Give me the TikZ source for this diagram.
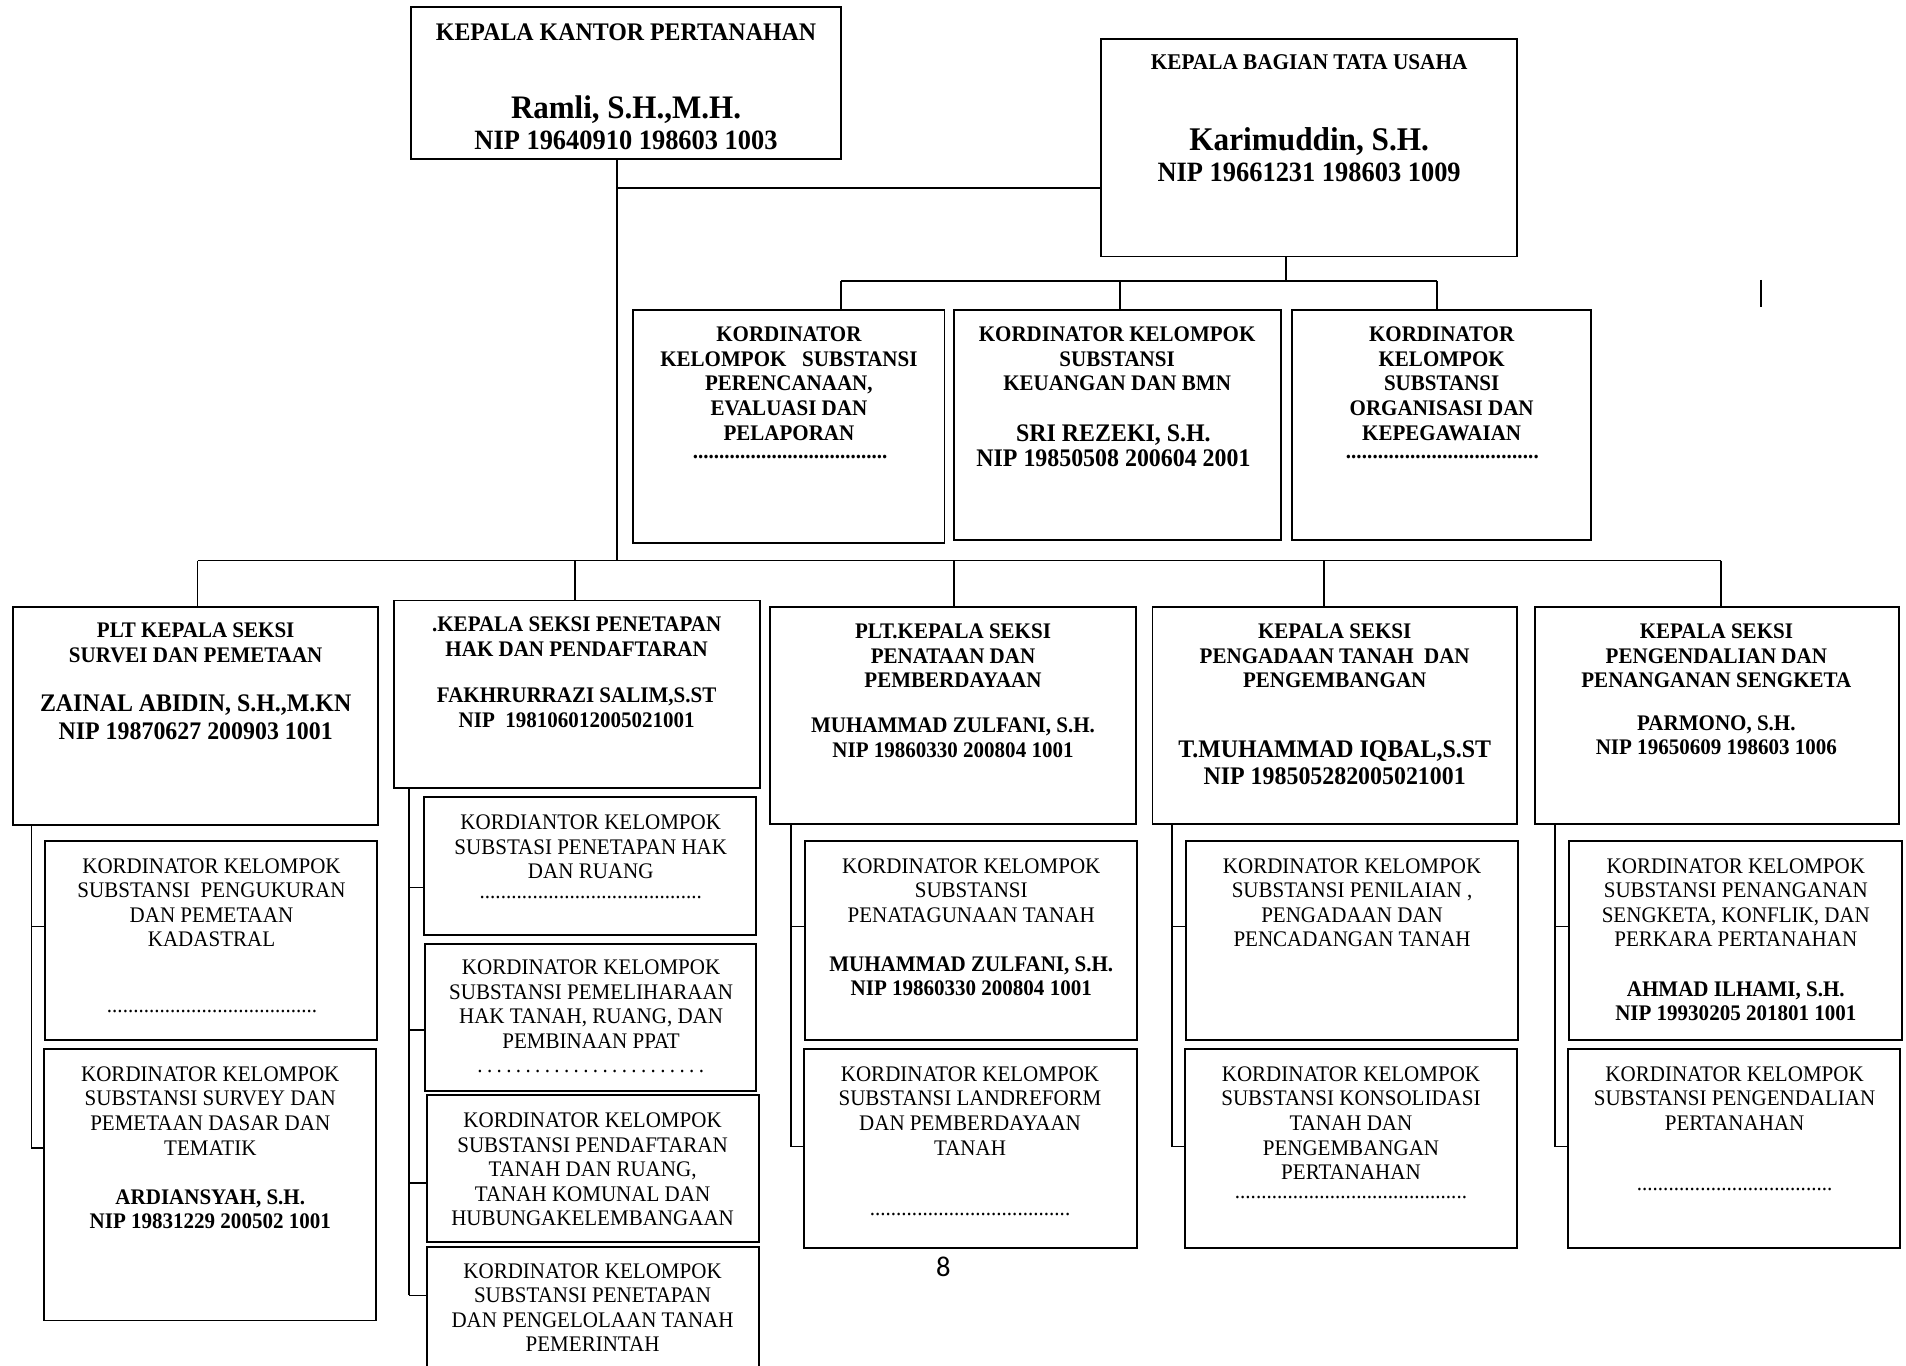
\documentclass[tikz,border=0pt]{standalone}
\usepackage{fontspec}
\setmainfont[FakeStretch=0.945]{Liberation Serif}
\newfontfamily\numfont{Carlito}
\newcommand\fN{\fontsize{18.3}{20.2}\selectfont}
\newcommand\fB{\fontsize{20.8}{22.8}\selectfont}
\newcommand\dotrow[2]{\hbox to #1pt{\xleaders\hbox to #2pt{\hss.\hss}\hfill}}
\newcommand\bx[5]{\pgfmathsetmacro\bxw{#4-#2}\pgfmathsetmacro\bxh{#5-#3}%
  \node[box,minimum width=\bxw pt,minimum height=\bxh pt] (#1) at ({(#2+#4)/2},{(#3+#5)/2}) {};}
\begin{document}
\begin{tikzpicture}[x=1pt,y=-1pt,
  box/.style={draw,line width=1.6pt,inner sep=0pt,outer sep=0pt},
  conn/.style={line width=1.4pt},
  txt/.style={anchor=north,align=center,inner sep=0pt},
  dotl/.style={anchor=base,inner sep=0pt}]
\fill[white] (0,0) rectangle (1568,1123);
\useasboundingbox (0,0) rectangle (1568,1123);
% ---------- boxes ----------
\bx{k1}{338}{6}{692}{131}
\bx{k2}{906}{32}{1248}{211}
\bx{b1}{521}{255}{777}{447}
\bx{b2}{785}{255}{1054}{444}
\bx{b3}{1063}{255}{1309}{444}
\bx{s1}{11}{499}{311}{679}
\bx{s2}{324.5}{494}{625.4}{648}
\bx{s3}{633.6}{499}{934.3}{678.2}
\bx{s4}{948.1}{499}{1248.2}{678.2}
\bx{s5}{1262.7}{499}{1562.1}{678.2}
\bx{c1a}{37.2}{691.7}{310.2}{855.3}
\bx{c1b}{36}{862.7}{309.4}{1086.3}
\bx{c2a}{349.1}{656}{622.1}{769.5}
\bx{c2b}{350}{776.7}{622}{897.6}
\bx{c2c}{351.2}{900.5}{624.1}{1021.4}
\bx{c2d}{351.2}{1025.7}{624.1}{1140}
\bx{c3a}{662.5}{691.7}{935.5}{855.3}
\bx{c3b}{661.4}{862.7}{935}{1026.3}
\bx{c4a}{975.8}{691.7}{1248.8}{855.3}
\bx{c4b}{974.6}{862.7}{1247.6}{1026.3}
\bx{c5a}{1290.9}{691.7}{1564.5}{855.3}
\bx{c5b}{1289.7}{862.7}{1563.4}{1026.3}
% ---------- texts ----------
\node[txt,font=\fontsize{20.8}{23}\selectfont\bfseries] (k1t) at (515,19.5) {KEPALA KANTOR PERTANAHAN};
\node[txt,font=\fontsize{27}{30}\selectfont\bfseries] (k1n) at (515,78.9) {Ramli, S.H.,M.H.};
\node[txt,font=\fontsize{23}{26}\selectfont\bfseries] (k1p) at (515,107.9) {NIP 19640910 198603 1003};
\node[txt,font=\fontsize{18.5}{21}\selectfont\bfseries] (k2t) at (1077,45) {KEPALA BAGIAN TATA USAHA};
\node[txt,font=\fontsize{27.2}{30}\selectfont\bfseries] (k2n) at (1077,104.8) {Karimuddin, S.H.};
\node[txt,font=\fontsize{23}{26}\selectfont\bfseries] (k2p) at (1077,134) {NIP 19661231 198603 1009};
% middle row
\node[txt,font=\fN\bfseries] (b1t) at (649,268.9) {KORDINATOR\\KELOMPOK\ \ \ SUBSTANSI\\PERENCANAAN,\\EVALUASI DAN\\PELAPORAN};
\node[dotl,font=\fN\bfseries] (b1d) at (650,377.2) {\dotrow{160}{4.3}};
\node[txt,font=\fN\bfseries] (b2t) at (919,268.9) {KORDINATOR KELOMPOK\\SUBSTANSI\\KEUANGAN DAN BMN};
\node[txt,font=\fontsize{20.8}{21.2}\selectfont\bfseries] (b2n) at (916,349) {SRI REZEKI, S.H.\\NIP 19850508 200604 2001};
\node[txt,font=\fN\bfseries] (b3t) at (1186,268.9) {KORDINATOR\\KELOMPOK\\SUBSTANSI\\ORGANISASI DAN\\KEPEGAWAIAN};
\node[dotl,font=\fN\bfseries] (b3d) at (1186.5,377.2) {\dotrow{159}{4.3}};
% section heads
\node[txt,font=\fN\bfseries] (s1t) at (161,512.3) {PLT KEPALA SEKSI\\SURVEI DAN PEMETAAN};
\node[txt,font=\fB\bfseries] (s1n) at (161,571.2) {ZAINAL ABIDIN, S.H.,M.KN\\NIP 19870627 200903 1001};
\node[txt,font=\fN\bfseries] (s2t) at (474.4,507.2) {.KEPALA SEKSI PENETAPAN\\HAK DAN PENDAFTARAN};
\node[txt,font=\fN\bfseries] (s2n) at (474.4,565.7) {FAKHRURRAZI SALIM,S.ST\\NIP\ \ 198106012005021001};
\node[txt,font=\fN\bfseries] (s3t) at (784,513) {PLT.KEPALA SEKSI\\PENATAAN DAN\\PEMBERDAYAAN};
\node[txt,font=\fN\bfseries] (s3n) at (784,590.4) {MUHAMMAD ZULFANI, S.H.\\NIP 19860330 200804 1001};
\node[txt,font=\fN\bfseries] (s4t) at (1098,513) {KEPALA SEKSI\\PENGADAAN TANAH\ \ DAN\\PENGEMBANGAN};
\node[txt,font=\fB\bfseries] (s4n) at (1098,608.8) {T.MUHAMMAD IQBAL,S.ST\\NIP 198505282005021001};
\node[txt,font=\fN\bfseries] (s5t) at (1412,513) {KEPALA SEKSI\\PENGENDALIAN DAN\\PENANGANAN SENGKETA};
\node[txt,font=\fN\bfseries] (s5n) at (1412,588.5) {PARMONO, S.H.\\NIP 19650609 198603 1006};
% column 1
\node[txt,font=\fN] (c1at) at (174,706) {KORDINATOR KELOMPOK\\SUBSTANSI\ \ PENGUKURAN\\DAN PEMETAAN\\KADASTRAL};
\node[dotl,font=\fN] (c1ad) at (174.5,833.2) {\dotrow{173}{4.3}};
\node[txt,font=\fN] (c1bt) at (173,877.3) {KORDINATOR KELOMPOK\\SUBSTANSI SURVEY DAN\\PEMETAAN DASAR DAN\\TEMATIK};
\node[txt,font=\fN\bfseries] (c1bn) at (173,978.5) {ARDIANSYAH, S.H.\\NIP 19831229 200502 1001};
% column 2
\node[txt,font=\fN] (c2at) at (486,670.4) {KORDIANTOR KELOMPOK\\SUBSTASI PENETAPAN HAK\\DAN RUANG\\[-4pt]\dotrow{183}{4.3}};
\node[txt,font=\fN] (c2bt) at (486.3,789.4) {KORDINATOR KELOMPOK\\SUBSTANSI PEMELIHARAAN\\HAK TANAH, RUANG, DAN\\PEMBINAAN PPAT};
\node[dotl,font=\fN] (c2bd) at (486,882) {\dotrow{190}{7.9}};
\node[txt,font=\fN] (c2ct) at (487.5,915.2) {KORDINATOR KELOMPOK\\SUBSTANSI PENDAFTARAN\\TANAH DAN RUANG,\\TANAH KOMUNAL DAN\\HUBUNGAKELEMBANGAAN};
\node[txt,font=\fN] (c2dt) at (487.5,1039.3) {KORDINATOR KELOMPOK\\SUBSTANSI PENETAPAN\\DAN PENGELOLAAN TANAH\\PEMERINTAH};
% column 3
\node[txt,font=\fN] (c3at) at (799,706) {KORDINATOR KELOMPOK\\SUBSTANSI\\PENATAGUNAAN TANAH};
\node[txt,font=\fN\bfseries] (c3an) at (799,786.6) {MUHAMMAD ZULFANI, S.H.\\NIP 19860330 200804 1001};
\node[txt,font=\fN] (c3bt) at (798,877.3) {KORDINATOR KELOMPOK\\SUBSTANSI LANDREFORM\\DAN PEMBERDAYAAN\\TANAH};
\node[dotl,font=\fN] (c3bd) at (798,1000) {\dotrow{165}{4.3}};
% column 4
\node[txt,font=\fN] (c4at) at (1112.3,706) {KORDINATOR KELOMPOK\\SUBSTANSI PENILAIAN ,\\PENGADAAN DAN\\PENCADANGAN TANAH};
\node[txt,font=\fN] (c4bt) at (1111.4,877.3) {KORDINATOR KELOMPOK\\SUBSTANSI KONSOLIDASI\\TANAH DAN\\PENGEMBANGAN\\PERTANAHAN\\[-4.6pt]\dotrow{191}{4.3}};
% column 5
\node[txt,font=\fN] (c5at) at (1428,706) {KORDINATOR KELOMPOK\\SUBSTANSI PENANGANAN\\SENGKETA, KONFLIK, DAN\\PERKARA PERTANAHAN};
\node[txt,font=\fN\bfseries] (c5an) at (1428,807.3) {AHMAD ILHAMI, S.H.\\NIP 19930205 201801 1001};
\node[txt,font=\fN] (c5bt) at (1427,877.3) {KORDINATOR KELOMPOK\\SUBSTANSI PENGENDALIAN\\PERTANAHAN};
\node[dotl,font=\fN] (c5bd) at (1427,979.1) {\dotrow{161}{4.3}};
% page number
\node[dotl,font=\numfont\fontsize{23.5}{26}\selectfont] (pg) at (776,1050.5) {8};
% ---------- connectors ----------
\coordinate (j0) at (507.8,461.2);
\coordinate (t1) at (507.8,154.4);
\draw[conn] (k1.south -| j0) -- (j0);
\draw[conn] (t1) -- (t1 -| k2.west);
\coordinate (j1) at (1058.2,231.2);
\draw[conn] (k2.south -| j1) -- (j1);
\coordinate (tb1) at (691.9,231.2);
\coordinate (tb2) at (921.2,231.2);
\coordinate (tb3) at (1182,231.2);
\draw[conn] (tb1) -- (tb3);
\draw[conn] (tb1) -- (tb1 |- b1.north);
\draw[conn] (tb2) -- (tb2 |- b2.north);
\draw[conn] (tb3) -- (tb3 |- b3.north);
\coordinate (m1) at (162.5,461.2);
\coordinate (m2) at (473,461.2);
\coordinate (m3) at (784.6,461.2);
\coordinate (m4) at (1089.4,461.2);
\coordinate (m5) at (1416,461.2);
\draw[conn] (m1) -- (m5);
\draw[conn] (m1) -- (m1 |- s1.north);
\draw[conn] (m2) -- (m2 |- s2.north);
\draw[conn] (m3) -- (m3 |- s3.north);
\draw[conn] (m4) -- (m4 |- s4.north);
\draw[conn] (m5) -- (m5 |- s5.north);
% column spines
\coordinate (p1a) at (25.8,762.1);
\coordinate (p1) at (25.8,944.2);
\draw[conn] (p1 |- s1.south) -- (p1);
\draw[conn] (p1a) -- (p1a -| c1a.west);
\draw[conn] (p1) -- (p1 -| c1b.west);
\coordinate (p2a) at (336.4,730);
\coordinate (p2b) at (336.4,847.3);
\coordinate (p2c) at (336.4,973.3);
\coordinate (p2) at (336.4,1065.7);
\draw[conn] (p2 |- s2.south) -- (p2);
\draw[conn] (p2a) -- (p2a -| c2a.west);
\draw[conn] (p2b) -- (p2b -| c2b.west);
\draw[conn] (p2c) -- (p2c -| c2c.west);
\draw[conn] (p2) -- (p2 -| c2d.west);
\coordinate (p3a) at (651,762.1);
\coordinate (p3) at (651,943.2);
\draw[conn] (p3 |- s3.south) -- (p3);
\draw[conn] (p3a) -- (p3a -| c3a.west);
\draw[conn] (p3) -- (p3 -| c3b.west);
\coordinate (p4a) at (964.4,762.1);
\coordinate (p4) at (964.4,943.2);
\draw[conn] (p4 |- s4.south) -- (p4);
\draw[conn] (p4a) -- (p4a -| c4a.west);
\draw[conn] (p4) -- (p4 -| c4b.west);
\coordinate (p5a) at (1279.5,762.1);
\coordinate (p5) at (1279.5,943.2);
\draw[conn] (p5 |- s5.south) -- (p5);
\draw[conn] (p5a) -- (p5a -| c5a.west);
\draw[conn] (p5) -- (p5 -| c5b.west);
% stray mark
\coordinate (sm1) at (1448.6,230.3);
\coordinate (sm2) at (1448.6,252.3);
\draw[line width=1.7pt] (sm1) -- (sm2);
\end{tikzpicture}
\end{document}
